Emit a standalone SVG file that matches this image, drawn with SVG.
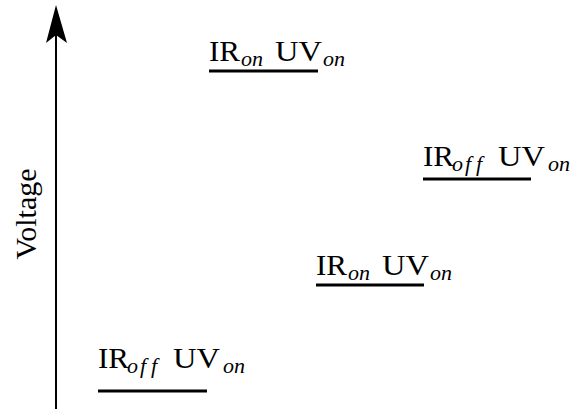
<svg xmlns="http://www.w3.org/2000/svg" width="576" height="409" viewBox="0 0 576 409">
<style>
.m{font-family:'Liberation Serif','Times New Roman',serif;font-size:30px;fill:#000}
.s{font-family:'Liberation Serif','Times New Roman',serif;font-size:22px;font-style:italic;fill:#000}
.u{stroke:#000;stroke-width:3;fill:none}
</style>
<rect width="576" height="409" fill="#fff"/>
<g id="axis">
<line x1="56" y1="409" x2="56" y2="30" stroke="#000" stroke-width="2"/>
<path d="M56,5 L67,43 L56,35 L46,43 Z" fill="#000"/>
<text class="m" transform="translate(36,214) rotate(-90)" text-anchor="middle">Voltage</text>
</g>
<g id="level1">
<text class="m" x="209" y="61" textLength="31" lengthAdjust="spacingAndGlyphs">IR</text>
<text class="s" x="241" y="66">on</text>
<text class="m" x="275" y="61" textLength="47" lengthAdjust="spacingAndGlyphs">UV</text>
<text class="s" x="323" y="66">on</text>
<line class="u" x1="209" y1="71" x2="318" y2="71"/>
</g>
<g id="level2">
<text class="m" x="423" y="166" textLength="31" lengthAdjust="spacingAndGlyphs">IR</text>
<text class="s" x="452 465 476" y="171">off</text>
<text class="m" x="498" y="166" textLength="47" lengthAdjust="spacingAndGlyphs">UV</text>
<text class="s" x="548" y="171">on</text>
<line class="u" x1="423" y1="179" x2="531" y2="179"/>
</g>
<g id="level3">
<text class="m" x="316" y="275" textLength="31" lengthAdjust="spacingAndGlyphs">IR</text>
<text class="s" x="348" y="280">on</text>
<text class="m" x="382" y="275" textLength="47" lengthAdjust="spacingAndGlyphs">UV</text>
<text class="s" x="430" y="280">on</text>
<line class="u" x1="316" y1="285" x2="424" y2="285"/>
</g>
<g id="level4">
<text class="m" x="98" y="368" textLength="31" lengthAdjust="spacingAndGlyphs">IR</text>
<text class="s" x="127 140 151" y="373">off</text>
<text class="m" x="173" y="368" textLength="47" lengthAdjust="spacingAndGlyphs">UV</text>
<text class="s" x="223" y="373">on</text>
<line class="u" x1="98" y1="391" x2="207" y2="391"/>
</g>
</svg>
